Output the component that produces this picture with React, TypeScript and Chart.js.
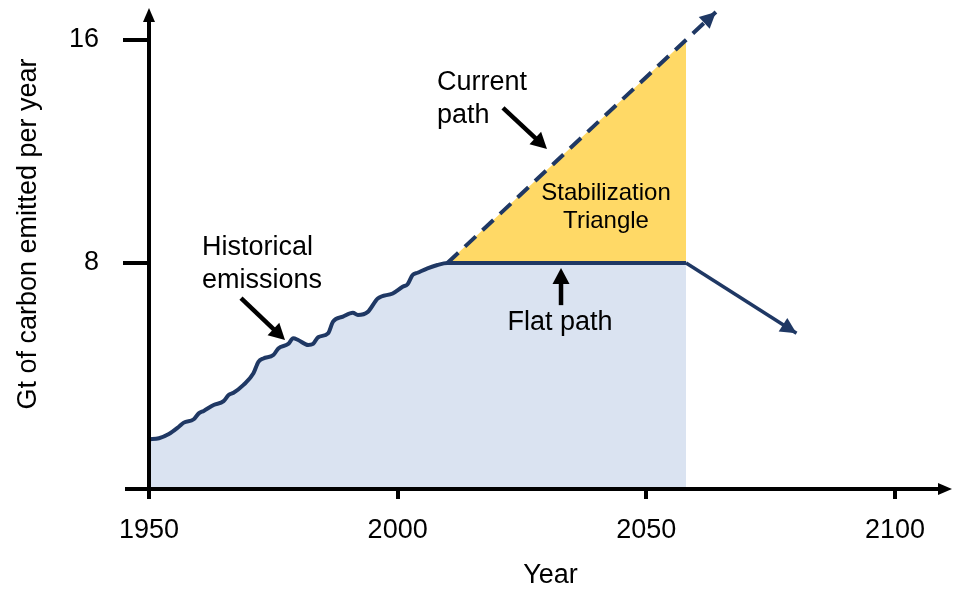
import React, { useEffect, useRef } from 'react';
import { Chart, registerables } from 'chart.js';

Chart.register(...registerables);

// ---------- data ----------
const historicalYears = [1950, 1952, 1954, 1956, 1957, 1959, 1960, 1961, 1963, 1965, 1966, 1967, 1969, 1971, 1972, 1973, 1975, 1976, 1978, 1979, 1980, 1982, 1983, 1984, 1986, 1987, 1989, 1991, 1992, 1994, 1996, 1999, 2001, 2002, 2003, 2004, 2006, 2008, 2010];
const historicalValues = [1.68, 1.72, 1.87, 2.13, 2.28, 2.40, 2.61, 2.70, 2.91, 3.05, 3.27, 3.35, 3.63, 4.05, 4.46, 4.58, 4.70, 4.94, 5.10, 5.30, 5.24, 5.06, 5.10, 5.34, 5.48, 5.90, 6.08, 6.22, 6.14, 6.25, 6.73, 6.91, 7.15, 7.24, 7.57, 7.65, 7.81, 7.93, 8.0];
const flatPathYears = [2058];
const flatPathValues = [8];
const declineYears = [2058, 2080.2];
const declineValues = [8, 5.48];
const currentPathYears = [2010, 2064];
const currentPathValues = [8, 17.0];
const triangleYears = [2010, 2058];
const triangleValues = [8, 16];
const xTickValues = [1950, 2000, 2050, 2100];
const yTickValues = [8, 16];
const xTitle = 'Year';
const yTitle = 'Gt of carbon emitted per year';

// axis extents (data units)
const X_MIN = 1950;
const X_MAX = 2111.47;
const Y_MIN = -0.1;
const Y_MAX = 18.18;
const Y_ARROW = 17.14;

// annotations (data units)
const noteTexts = [
  { text: 'Historical', x: 1960.66, y: 8.29, align: 'left', size: 27 },
  { text: 'emissions', x: 1960.66, y: 7.1, align: 'left', size: 27 },
  { text: 'Current', x: 2007.91, y: 14.2, align: 'left', size: 27 },
  { text: 'path', x: 2007.91, y: 13.02, align: 'left', size: 27 },
  { text: 'Stabilization', x: 2041.9, y: 10.26, align: 'center', size: 24 },
  { text: 'Triangle', x: 2041.9, y: 9.25, align: 'center', size: 24 },
  { text: 'Flat path', x: 2032.65, y: 5.6, align: 'center', size: 27 },
];
const noteArrows = [
  { from: [1968.5, 6.74], to: [1977.35, 5.24] },
  { from: [2021.18, 13.56], to: [2030.03, 12.09] },
  { from: [2032.85, 6.49], to: [2032.85, 7.82] },
];

const NAVY = '#1F3864';
const BLUE_FILL = '#DAE3F1';
const YELLOW = '#FFD966';
const FONT = '"Liberation Sans", Arial, Helvetica, sans-serif';
const CANVAS_SHIFT = 30;

const toPoints = (xs: number[], ys: number[]) => xs.map((x, i) => ({ x, y: ys[i] }));

function drawHead(ctx: CanvasRenderingContext2D, fx: number, fy: number, tx: number, ty: number, len: number, half: number, color: string) {
  const a = Math.atan2(ty - fy, tx - fx);
  const bx = tx - len * Math.cos(a);
  const by = ty - len * Math.sin(a);
  ctx.beginPath();
  ctx.moveTo(tx, ty);
  ctx.lineTo(bx + half * Math.sin(a), by - half * Math.cos(a));
  ctx.lineTo(bx - half * Math.sin(a), by + half * Math.cos(a));
  ctx.closePath();
  ctx.fillStyle = color;
  ctx.fill();
}

function drawArrow(ctx: CanvasRenderingContext2D, fx: number, fy: number, tx: number, ty: number, width: number, len: number, half: number, color: string) {
  const a = Math.atan2(ty - fy, tx - fx);
  ctx.beginPath();
  ctx.moveTo(fx, fy);
  ctx.lineTo(tx - (len - 2) * Math.cos(a), ty - (len - 2) * Math.sin(a));
  ctx.strokeStyle = color;
  ctx.lineWidth = width;
  ctx.lineCap = 'butt';
  ctx.stroke();
  drawHead(ctx, fx, fy, tx, ty, len, half, color);
}

const overlayPlugin = {
  id: 'overlay',
  afterDatasetsDraw(chart: any) {
    const { ctx, chartArea, scales } = chart;
    const xs = scales.x;
    const ys = scales.y;
    ctx.save();

    // arrow heads at ends of the decline and current-path lines
    [1, 2].forEach((idx) => {
      const pts = chart.getDatasetMeta(idx).data;
      const p0 = pts[pts.length - 2];
      const p1 = pts[pts.length - 1];
      drawHead(ctx, p0.x, p0.y, p1.x, p1.y, 16, 8, NAVY);
    });

    // axes with arrows
    const left = chartArea.left;
    const bottom = chartArea.bottom;
    const xEnd = xs.getPixelForValue(X_MAX);
    const yEnd = ys.getPixelForValue(Y_ARROW);
    ctx.strokeStyle = '#000';
    ctx.lineWidth = 4;
    ctx.beginPath();
    ctx.moveTo(left - 24, bottom);
    ctx.lineTo(xEnd - 10, bottom);
    ctx.stroke();
    drawHead(ctx, left, bottom, xEnd, bottom, 14, 6, '#000');
    ctx.beginPath();
    ctx.moveTo(left, bottom + 10);
    ctx.lineTo(left, yEnd + 10);
    ctx.stroke();
    drawHead(ctx, left, bottom, left, yEnd, 14, 6, '#000');

    // annotation arrows
    noteArrows.forEach((ar) => {
      drawArrow(ctx,
        xs.getPixelForValue(ar.from[0]), ys.getPixelForValue(ar.from[1]),
        xs.getPixelForValue(ar.to[0]), ys.getPixelForValue(ar.to[1]),
        4.5, 16, 8.5, '#000');
    });

    // annotation texts
    ctx.fillStyle = '#000';
    ctx.textBaseline = 'alphabetic';
    noteTexts.forEach((t) => {
      ctx.font = `${t.size}px ${FONT}`;
      ctx.textAlign = t.align;
      ctx.fillText(t.text, xs.getPixelForValue(t.x), ys.getPixelForValue(t.y));
    });
    ctx.restore();
  },
};

const zeroPadding = (scale: any) => {
  scale.paddingTop = 0;
  scale.paddingBottom = 0;
  scale.paddingLeft = 0;
  scale.paddingRight = 0;
};

export default function App() {
  const canvasRef = useRef<HTMLCanvasElement | null>(null);

  useEffect(() => {
    const canvas = canvasRef.current;
    if (!canvas) return;
    Chart.defaults.font.family = FONT;
    const chart = new Chart(canvas, {
      type: 'line',
      data: {
        datasets: [
          {
            label: 'Historical emissions / Flat path',
            data: toPoints(historicalYears.concat(flatPathYears), historicalValues.concat(flatPathValues)),
            borderColor: NAVY,
            borderWidth: 4,
            backgroundColor: BLUE_FILL,
            fill: 'start',
            pointRadius: 0,
            cubicInterpolationMode: 'monotone',
          },
          {
            label: 'Decline',
            data: toPoints(declineYears, declineValues),
            borderColor: NAVY,
            borderWidth: 3.5,
            fill: false,
            pointRadius: 0,
          },
          {
            label: 'Current path',
            data: toPoints(currentPathYears, currentPathValues),
            borderColor: NAVY,
            borderWidth: 4,
            borderDash: [15, 9],
            fill: false,
            pointRadius: 0,
          },
          {
            label: 'Stabilization Triangle',
            data: toPoints(triangleYears, triangleValues),
            borderColor: 'rgba(0,0,0,0)',
            borderWidth: 0,
            backgroundColor: YELLOW,
            fill: { value: 8 },
            pointRadius: 0,
          },
        ],
      } as any,
      options: {
        animation: false,
        responsive: false,
        layout: { padding: { top: 9, right: 4, bottom: 0, left: 0 } },
        plugins: {
          legend: { display: false },
          tooltip: { enabled: false },
        },
        scales: {
          x: {
            type: 'linear',
            min: X_MIN,
            max: X_MAX,
            afterBuildTicks: (axis: any) => {
              axis.ticks = xTickValues.map((v) => ({ value: v }));
            },
            afterFit: (scale: any) => {
              scale.height = 103;
              zeroPadding(scale);
            },
            border: { display: false },
            grid: { drawOnChartArea: false, drawTicks: true, tickLength: 10, color: '#000', lineWidth: 4 },
            ticks: {
              color: '#000',
              font: { size: 27 },
              padding: 15,
              maxRotation: 0,
              autoSkip: false,
              callback: (v: any) => String(v),
            },
            title: { display: true, text: xTitle, color: '#000', font: { size: 27 }, padding: 0 },
          },
          y: {
            type: 'linear',
            min: Y_MIN,
            max: Y_MAX,
            afterBuildTicks: (axis: any) => {
              axis.ticks = yTickValues.map((v) => ({ value: v }));
            },
            afterFit: (scale: any) => {
              scale.width = 149;
              zeroPadding(scale);
            },
            border: { display: false },
            grid: { drawOnChartArea: false, drawTicks: true, tickLength: 26, color: '#000', lineWidth: 4 },
            ticks: {
              color: '#000',
              font: { size: 27 },
              padding: 24,
              callback: (v: any) => String(v),
            },
            title: { display: true, text: yTitle, color: '#000', font: { size: 27 }, padding: { top: 12, bottom: 0 } },
          },
        },
      } as any,
      plugins: [overlayPlugin as any],
    });
    return () => chart.destroy();
  }, []);

  return (
    <div style={{ position: 'fixed', left: 0, top: 0, width: 956, height: 592, overflow: 'hidden', background: '#fff' }}>
      <canvas
        ref={canvasRef}
        width={956}
        height={592 + CANVAS_SHIFT}
        style={{ position: 'absolute', left: 0, top: -CANVAS_SHIFT, display: 'block', width: 956, height: 592 + CANVAS_SHIFT }}
      />
    </div>
  );
}
